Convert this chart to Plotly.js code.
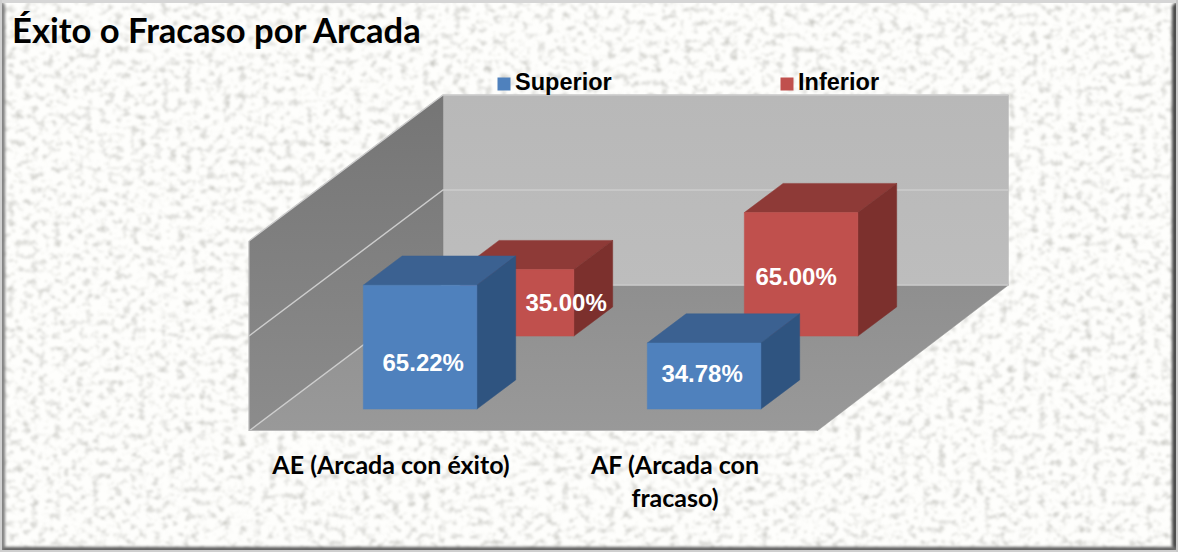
<!DOCTYPE html>
<html>
<head>
<meta charset="utf-8">
<script src="https://cdn.plot.ly/plotly-3.0.1.min.js"></script>
<style>
html,body{margin:0;padding:0;background:#fff;overflow:hidden}
#stage{position:relative;width:1178px;height:552px;overflow:hidden}
#tex{position:absolute;left:0;top:0}
#chart{position:absolute;left:0;top:0;width:1178px;height:552px}
</style>
</head>
<body>
<div id="stage">
<svg id="tex" width="1178" height="552" xmlns="http://www.w3.org/2000/svg">
  <defs>
    <filter id="marble" x="0" y="0" width="100%" height="100%" color-interpolation-filters="sRGB">
      <feTurbulence type="fractalNoise" baseFrequency="0.13 0.15" numOctaves="3" seed="11"/>
      <feColorMatrix type="matrix" values="0 0 0 0 0.78  0 0 0 0 0.78  0 0 0 0 0.76  2.4 0 0 0 -1.2"/>
      <feGaussianBlur stdDeviation="0.8"/>
    </filter>
    <filter id="soft"><feGaussianBlur stdDeviation="1.6"/></filter>
  </defs>
  <rect width="1178" height="552" fill="#fefefc"/>
  <rect width="1178" height="552" filter="url(#marble)"/>
  <g filter="url(#soft)">
    <polygon points="0,0 5,5 5,547 0,552" fill="#7c7c7c"/>
    <polygon points="1178,0 1172,6 1172,546 1178,552" fill="#4a4a4a"/>
    <polygon points="0,552 5,547 1172,547 1178,552" fill="#5a5a5a"/>
  </g>
  <rect x="0" y="0" width="1178" height="3" fill="#d6d6d6"/>
  <rect x="0" y="0" width="2" height="552" fill="#d0d0d0"/>
  <rect x="0" y="550" width="1178" height="2" fill="#cfcfcf"/>
  <rect x="1176" y="0" width="2" height="552" fill="#c8c8c8"/>
</svg>
<div id="chart"></div>
</div>
<script>
// ---- data ----
const categories = ["AE (Arcada con éxito)", "AF (Arcada con<br>fracaso)"];
const seriesNames = ["Superior", "Inferior"];
const superior = [65.22, 34.78];
const inferior = [35.00, 65.00];
const chartTitle = "Éxito o Fracaso por Arcada";

// ---- oblique 3D projection onto the cartesian axes ----
const pxPerCat = 284, pxPerPct = 1.9;
const baseX = 249, baseY = 431;
const depthX = 194 / pxPerCat, depthY = 146 / pxPerPct;
const valueMax = 100, gridStep = 50;
const barWidth = 0.4, barDepth = 0.2;
const proj = (c, v, d) => [c + d * depthX, v + d * depthY];
const poly = pts => ({ x: pts.map(p => p[0]), y: pts.map(p => p[1]) });

const traces = [];
function face(pts, color, grad) {
  const t = Object.assign(poly(pts.concat([pts[0]])), {
    type: "scatter", mode: "lines", fill: "toself", hoverinfo: "skip", showlegend: false,
    line: { color: color, width: 0.5 }, fillcolor: color
  });
  if (grad) { t.fillgradient = { type: "vertical", colorscale: grad }; }
  traces.push(t);
}

// walls and floor
const nCat = categories.length;
const backEnd = nCat - 2.5 / pxPerCat;
face([proj(0, 0, 1), proj(backEnd, 0, 1), proj(backEnd, valueMax, 1), proj(0, valueMax, 1)], "#bbbbbb",
  [[0, "#bdbdbd"], [1, "#b8b8b8"]]);
face([proj(0, 0, 0), proj(0, 0, 1), proj(0, valueMax, 1), proj(0, valueMax, 0)], "#7e7e7e",
  [[0, "#8c8c8c"], [1, "#757575"]]);
face([proj(0, 0, 0), proj(nCat, 0, 0), proj(backEnd, 0, 1), proj(0, 0, 1)], "#949494",
  [[0, "#999999"], [1, "#8f8f8f"]]);

// gridlines along the walls
for (let v = 0; v <= valueMax; v += gridStep) {
  const pts = [proj(0, v, 0), proj(0, v, 1), proj(backEnd, v, 1)];
  traces.push(Object.assign(poly(pts), {
    type: "scatter", mode: "lines", hoverinfo: "skip", showlegend: false,
    line: { color: "#cdcdcd", width: 1.4 }
  }));
}
traces.push(Object.assign(poly([proj(0, 0, 0), proj(0, valueMax, 0)]), {
  type: "scatter", mode: "lines", hoverinfo: "skip", showlegend: false,
  line: { color: "#c9c9c9", width: 1 }
}));
traces.push(Object.assign(poly([proj(0, 0, 0), proj(nCat, 0, 0)]), {
  type: "scatter", mode: "lines", hoverinfo: "skip", showlegend: false,
  line: { color: "#b9b9b9", width: 2 }
}));

// bars: back series first
function bar(i, value, dc, colors) {
  const c0 = i + 0.5 - barWidth / 2, c1 = c0 + barWidth;
  const d0 = dc - barDepth / 2, d1 = dc + barDepth / 2;
  face([proj(c0, value, d0), proj(c1, value, d0), proj(c1, value, d1), proj(c0, value, d1)], colors.top);
  face([proj(c1, 0, d0), proj(c1, 0, d1), proj(c1, value, d1), proj(c1, value, d0)], colors.side);
  face([proj(c0, 0, d0), proj(c1, 0, d0), proj(c1, value, d0), proj(c0, value, d0)], colors.front);
}
const blue = { front: "#4f81bd", top: "#3b6191", side: "#2f5480" };
const red = { front: "#c0504d", top: "#8e3a37", side: "#7c302d" };
inferior.forEach((v, i) => bar(i, v, 0.75, red));
superior.forEach((v, i) => bar(i, v, 0.25, blue));

// data labels (white, over the bars)
function labels(values, dc, nudgeX, nudgeY) {
  const pos = values.map((v, i) => proj(i + 0.5 + nudgeX[i], v / 2 + nudgeY[i], dc - barDepth / 2));
  traces.push({
    type: "scatter", mode: "text", hoverinfo: "skip", showlegend: false, cliponaxis: false,
    x: pos.map(p => p[0]), y: pos.map(p => p[1]),
    text: values.map(v => v.toFixed(2) + "%"), textposition: "middle center",
    textfont: { family: "Liberation Sans, Arial, sans-serif", size: 24, color: "#ffffff", weight: 700 }
  });
}
labels(superior, 0.25, [0.011, -0.007], [-9.2, 0.05]);
labels(inferior, 0.75, [0.1725, -0.0176], [-0.9, -2.4]);

// legend row
const legendY = (baseY - 84) / pxPerPct;
const legendX = [(504 - baseX) / pxPerCat, (787 - baseX) / pxPerCat];
[blue.front, red.front].forEach((col, k) => {
  traces.push({
    type: "scatter", mode: "markers+text", hoverinfo: "skip", showlegend: false, cliponaxis: false,
    x: [legendX[k]], y: [legendY], text: ["\u200A" + seriesNames[k]], textposition: "middle right",
    marker: { symbol: "square", size: 13, color: col },
    textfont: { family: "Liberation Sans, Arial, sans-serif", size: 23.5, color: "#000000", weight: 700 }
  });
});

const layout = {
  width: 1178, height: 552,
  margin: { l: 0, r: 0, t: 0, b: 552 - baseY, pad: 0 },
  paper_bgcolor: "rgba(0,0,0,0)", plot_bgcolor: "rgba(0,0,0,0)",
  showlegend: false,
  title: {
    text: "<b>" + chartTitle + "</b>", xref: "container", yref: "container",
    x: 12 / 1178, xanchor: "left", y: 1 - 31 / 552, yanchor: "middle",
    font: { family: "Lato, sans-serif", size: 34.6, color: "#000000" }
  },
  xaxis: {
    range: [-baseX / pxPerCat, (1178 - baseX) / pxPerCat],
    tickmode: "array", tickvals: categories.map((_, i) => i + 0.5), ticktext: categories,
    showgrid: false, zeroline: false, showline: false, ticks: "",
    ticklabelstandoff: 17, tickangle: 0,
    tickfont: { family: "Lato, sans-serif", size: 25, color: "#000000", weight: 700 },
    fixedrange: true
  },
  yaxis: {
    range: [0, baseY / pxPerPct], visible: false, fixedrange: true
  }
};
Plotly.newPlot("chart", traces, layout, { displayModeBar: false, staticPlot: true });
</script>
</body>
</html>
